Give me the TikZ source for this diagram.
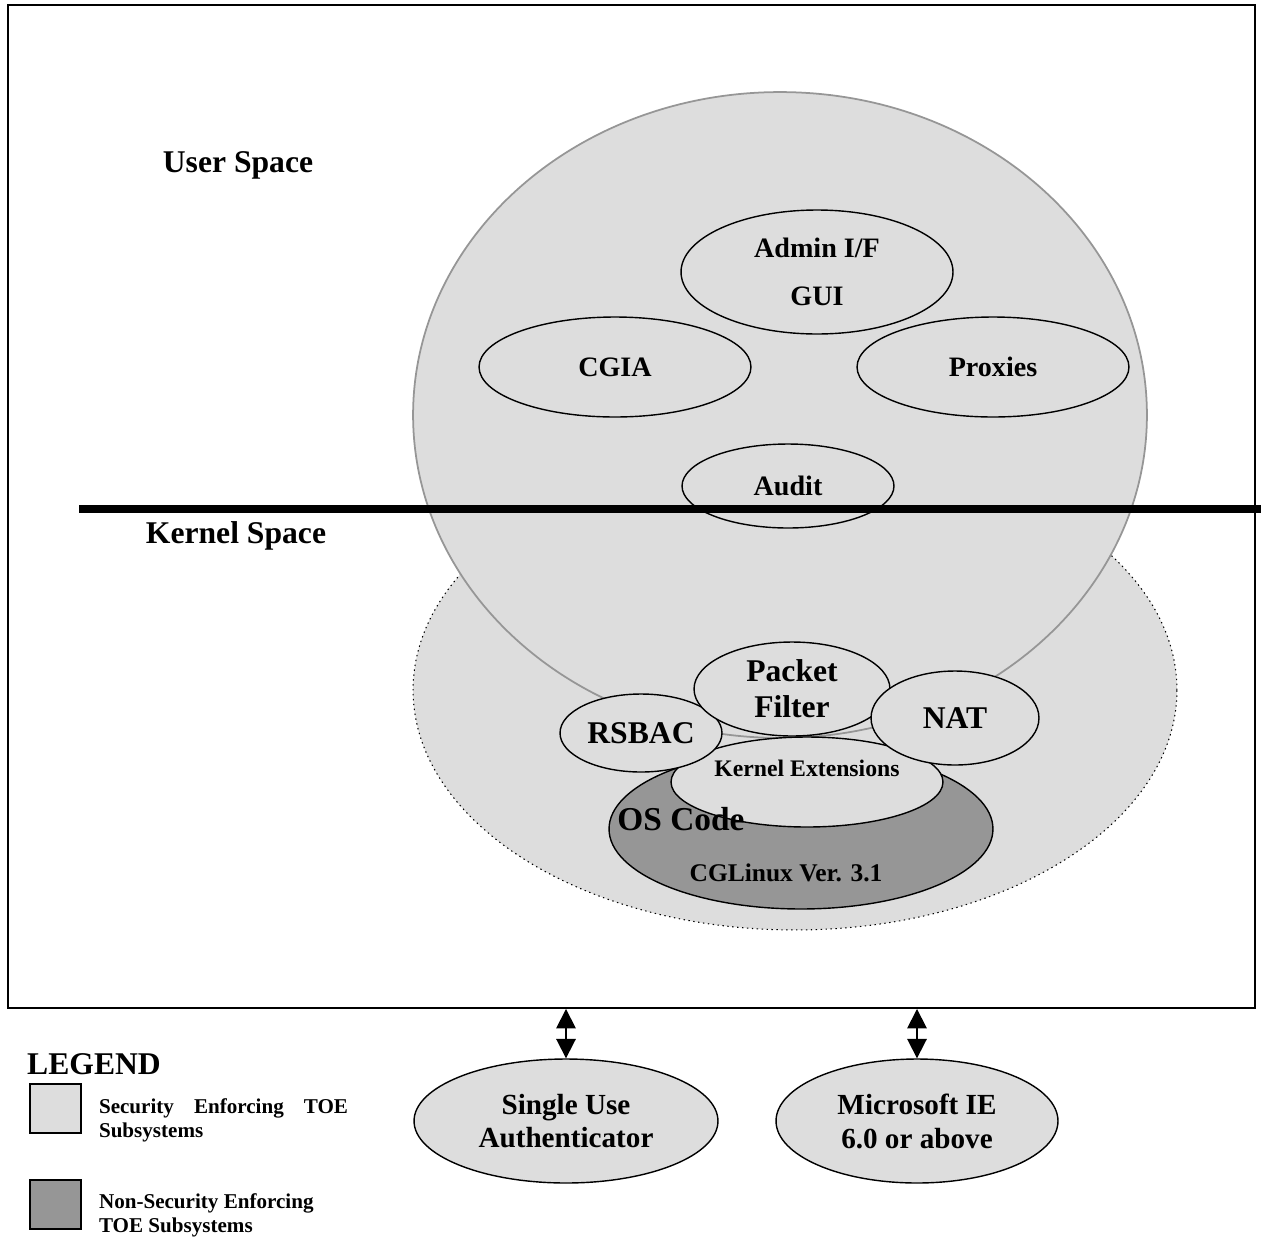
\documentclass[tikz,border=0pt]{standalone}
\usepackage{fontspec}
\setmainfont{Liberation Serif}
\usepackage{tikz}
\usetikzlibrary{shapes, arrows.meta, positioning}
\definecolor{secgray}{RGB}{221,221,221}
\definecolor{nonsecgray}{RGB}{150,150,150}
\definecolor{rimgray}{RGB}{150,150,150}

\begin{document}
\begin{tikzpicture}[x=0.02cm, y=-0.02cm]
	\tikzstyle{part} = [draw, ellipse, line width=0.8pt, fill=secgray, inner sep=0pt, align=center, font={\bfseries\fontsize{16}{27}\selectfont}];
	\tikzstyle{bigpart} = [part, font={\bfseries\fontsize{18}{20.5}\selectfont}];
	\tikzstyle{outside} = [part, font={\bfseries\fontsize{16.6}{19.3}\selectfont}];
	\tikzstyle{space} = [font={\bfseries\fontsize{18}{22}\selectfont}];
	\tikzstyle{legbox} = [draw, line width=0.8pt, inner sep=0pt, minimum width=1.02cm, minimum height=0.98cm];
	\tikzstyle{legtext} = [inner sep=0pt, align=left, font={\bfseries\fontsize{12}{13.6}\selectfont}];
	\tikzstyle{link} = [{Triangle[length=11pt,width=11pt]}-{Triangle[length=11pt,width=11pt]}, line width=1pt];

	\useasboundingbox (0,0) rectangle (1261,1238);
	\node[draw, line width=1.2pt, inner sep=0pt, minimum width=24.94cm, minimum height=20.06cm] (frame) at (631.5,506.5) {};

	% kernel space and user space
	\node[part, dotted, line width=0.6pt, minimum width=15.28cm, minimum height=9.6cm] (kernel) at (795,690) {};
	\node[part, draw=rimgray, line width=1pt, minimum width=14.68cm, minimum height=12.92cm] (user) at (780,415) {};

	\node[part, minimum width=5.44cm, minimum height=2.48cm] (admin) at (817,272) {Admin I/F\\GUI};
	\foreach \name/\x/\txt in {cgia/615/CGIA, proxies/993/Proxies}
		\node[part, minimum width=5.44cm, minimum height=2cm] (\name) at (\x,367) {\txt};
	\node[part, minimum width=4.24cm, minimum height=1.68cm] (audit) at (788,486) {Audit};

	\draw[line width=4.5pt] (79,509) -- (1261,509);

	\node[space] (userlbl) at (238,165) {User Space};
	\node[space] (kernellbl) at (236,536) {Kernel Space};

	% kernel parts
	\node[part, fill=nonsecgray, minimum width=7.68cm, minimum height=3.2cm] (oscode) at (801,829) {};
	\node[part, minimum width=5.44cm, minimum height=1.8cm] (kext) at (807,782) {};
	\node[bigpart, minimum width=3.24cm, minimum height=1.56cm] (rsbac) at (641,733) {RSBAC};
	\node[bigpart, minimum width=3.92cm, minimum height=1.88cm] (packet) at (792,689) {Packet\\Filter};
	\node[bigpart, minimum width=3.36cm, minimum height=1.88cm] (nat) at (955,718) {NAT};

	\node[font={\bfseries\fontsize{13.5}{16}\selectfont}] (kextlbl) at (807,768) {Kernel Extensions};
	\node[font={\bfseries\fontsize{19}{22}\selectfont}] (oslbl) at (681,819) {OS Code};
	\node[font={\bfseries\fontsize{14.5}{17}\selectfont}] (cglbl) at (786,873) {CGLinux Ver. 3.1};

	% outside the TOE
	\node[outside, minimum width=6.08cm, minimum height=2.48cm] (single) at (566,1121) {Single Use\\Authenticator};
	\node[outside, minimum width=5.64cm, minimum height=2.48cm] (msie) at (917,1121) {Microsoft IE\\6.0 or above};

	\foreach \name in {single, msie}
		\draw[link] (\name.north) -- (\name.north |- frame.south);

	% legend
	\node[space] (legend) at (94,1064) {LEGEND};
	\node[legbox, fill=secgray] (legsec) at (55.5,1108.5) {};
	\node[legbox, fill=nonsecgray] (legnon) at (55.5,1204.5) {};
	\node[legtext, right=0.34cm of legsec, yshift=-0.23cm] (legsectxt) {\makebox[4.98cm][s]{Security Enforcing TOE}\\Subsystems};
	\node[legtext, right=0.34cm of legnon, yshift=-0.22cm] (legnontxt) {Non-Security Enforcing\\TOE Subsystems};
\end{tikzpicture}
\end{document}
